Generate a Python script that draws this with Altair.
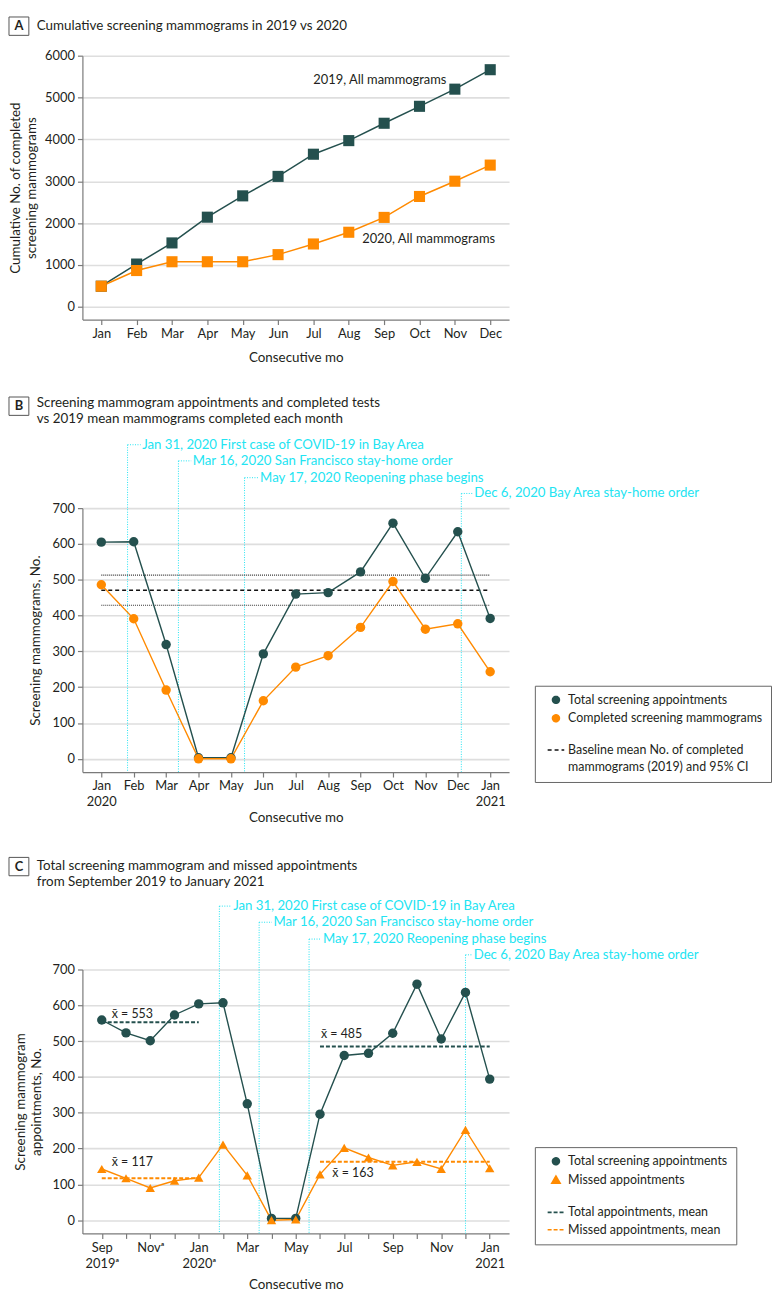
import json
import altair as alt
import pandas as pd

FONT = "Lato"
INK = "#231f20"
TEAL = "#24504e"
ORANGE = "#ff8a00"
CYAN = "#22e4f2"
GRID = "#dedede"
AXIS = "#7a7a7a"

# ------------------------------------------------------------------ data
# Panel A: cumulative screening mammograms
months_a = ["Jan", "Feb", "Mar", "Apr", "May", "Jun", "Jul", "Aug", "Sep", "Oct", "Nov", "Dec"]
cum_2019 = [490, 1020, 1525, 2140, 2650, 3115, 3645, 3970, 4385, 4790, 5200, 5665]
cum_2020 = [490, 865, 1075, 1075, 1075, 1245, 1500, 1780, 2135, 2635, 3000, 3385]
series_a = ["2019, All mammograms", "2020, All mammograms"]
series_a_label_x = [9.76, 11.14]
series_a_label_y = [5430, 1615]

# Panel B: Jan 2020 - Jan 2021
months_b = [["Jan", "2020"], "Feb", "Mar", "Apr", "May", "Jun", "Jul", "Aug", "Sep",
            "Oct", "Nov", "Dec", ["Jan", "2021"]]
total_b = [605, 606, 319, 3, 3, 293, 460, 464, 522, 658, 504, 634, 392]
completed_b = [486, 391, 192, 0, 0, 162, 256, 288, 367, 495, 362, 377, 243]
baseline_mean = 471
baseline_ci = [429, 513]
SPACER = "spacer"
series_b = ["Total screening appointments", "Completed screening mammograms", SPACER,
            "Baseline mean No. of completed", "mammograms (2019) and 95% CI"]

# Panel C: Sep 2019 - Jan 2021
months_c = [["Sep", "2019ᵃ"], "", "Novᵃ", "", ["Jan", "2020ᵃ"], "", "Mar", "", "May", "",
            "Jul", "", "Sep", "", "Nov", "", ["Jan", "2021"]]
total_c = [559, 523, 501, 573, 604, 607, 325, 5, 5, 296, 460, 466, 522, 659, 506, 636, 394]
missed_c = [143, 117, 90, 110, 119, 211, 125, 0, 2, 128, 202, 175, 153, 163, 143, 252, 145]
series_c = ["Total screening appointments", "Missed appointments", SPACER,
            "Total appointments, mean", "Missed appointments, mean"]
mean_series = ["Total appointments, mean", "Total appointments, mean",
               "Missed appointments, mean", "Missed appointments, mean"]
mean_values = [553, 485, 117, 163]
mean_from = [0, 9, 0, 9]
mean_to = [4, 16, 4, 16]
mean_label_x = [0.41, 9.04, 0.41, 9.51]
mean_label_y = [576, 520, 162, 132]

# COVID-19 events
events = ["Jan 31, 2020 First case of COVID-19 in Bay Area",
          "Mar 16, 2020 San Francisco stay-home order",
          "May 17, 2020 Reopening phase begins",
          "Dec 6, 2020 Bay Area stay-home order"]
events_b_x = [0.81, 2.38, 4.42, 11.11]
events_b_text_x = [1.26, 2.82, 4.90, 11.51]
events_c_x = [4.85, 6.49, 8.55, 15.0]
events_c_text_x = [5.42, 7.08, 9.12, 15.34]
events_label_y = [877, 832, 785, 741]

titles = {
    "A": ["Cumulative screening mammograms in 2019 vs 2020"],
    "B": ["Screening mammogram appointments and completed tests",
          "vs 2019 mean mammograms completed each month"],
    "C": ["Total screening mammogram and missed appointments",
          "from September 2019 to January 2021"],
}

W, H = 430, 266
Y_DOM = [-37, 700]


def label_expr(labels):
    return json.dumps(labels, ensure_ascii=False) + "[datum.value]"


def x_axis(n, labels, title_pad):
    return alt.Axis(values=list(range(n)), labelExpr=label_expr(labels),
                    title="Consecutive mo", titlePadding=title_pad,
                    labelOverlap=False, labelFlush=False, grid=False, labelLineHeight=16)


def y_axis(values, title, title_pad):
    return alt.Axis(values=values, title=title, titlePadding=title_pad, format="d",
                    grid=True, gridColor=GRID, gridWidth=1.6, labelFlush=False,
                    labelOverlap=False, titleLineHeight=16)


def X(field, dom, axis):
    return alt.X(field, type="quantitative",
                 scale=alt.Scale(domain=dom, nice=False, zero=False), axis=axis)


def Y(field, dom, axis):
    return alt.Y(field, type="quantitative",
                 scale=alt.Scale(domain=dom, nice=False, zero=False), axis=axis)


def header(letter, box_top, text_top):
    d = alt.Data(values=[{"t": letter, "h": "\n".join(titles[letter])}])
    box = alt.Chart(d).mark_rect(fill="white", stroke="#555555", strokeWidth=1).encode(
        x=alt.value(-74), x2=alt.value(-54), y=alt.value(box_top), y2=alt.value(box_top + 18.5))
    let = alt.Chart(d).mark_text(font=FONT, fontSize=13, fontWeight="bold", color=INK,
                                 align="center", baseline="middle").encode(
        x=alt.value(-64), y=alt.value(box_top + 9.5), text="t:N")
    ttl = alt.Chart(d).mark_text(font=FONT, fontSize=13.5, color=INK, align="left",
                                 baseline="top", lineBreak="\n", lineHeight=16).encode(
        x=alt.value(-46), y=alt.value(text_top), text="h:N")
    return [box, let, ttl]


def event_layers(xdom, xs, txs, step, xax, yax):
    df = pd.DataFrame({"e": events, "x": xs, "xt": txs, "xc": [t - 1.5 / step for t in txs],
                       "y": events_label_y})
    base = alt.Chart(df)
    vline = base.mark_rule(color=CYAN, strokeWidth=1, strokeDash=[1, 1.5]).encode(
        x=X("x", xdom, xax), y=Y("y", Y_DOM, yax), y2=alt.value(H))
    hline = base.mark_rule(color=CYAN, strokeWidth=1, strokeDash=[1, 1.5]).encode(
        x=X("x", xdom, xax), x2="xc:Q", y=Y("y", Y_DOM, yax))
    txt = base.mark_text(color=CYAN, font=FONT, fontSize=13.3, align="left",
                         baseline="middle").encode(
        x=X("xt", xdom, xax), y=Y("y", Y_DOM, yax), text="e:N")
    return vline, [hline, txt]


def legend(line_entries, hidden_entries):
    size_sig = (f"datum.value == '{SPACER}' ? 0 : "
                f"indexof({json.dumps(hidden_entries)}, datum.value) >= 0 ? 0 : "
                f"indexof({json.dumps(line_entries)}, datum.value) >= 0 ? 280 : "
                f"datum.value == 'Missed appointments' ? 70 : 48")
    font_sig = f"datum.value == '{SPACER}' ? 2 : 12.5"
    return alt.Legend(orient="none", legendX=456, legendY=179, title=None,
                      strokeColor="#666666", fillColor="white", padding=8,
                      labelFont=FONT, labelFontSize={"expr": font_sig}, labelColor=INK,
                      labelLimit=400, symbolSize={"expr": size_sig}, symbolOffset=7,
                      symbolStrokeWidth=1.6, rowPadding=4.5, labelOffset=6,
                      gridAlign="none",
                      labelExpr=f"datum.label == '{SPACER}' ? '' : datum.label")


# ------------------------------------------------------------------ panel A
xa_dom = [-0.533, 11.533]
ya_dom = [-308, 6000]
xa_ax = x_axis(12, months_a, 10)
ya_ax = y_axis(list(range(0, 6001, 1000)), ["Cumulative No. of completed", "screening mammograms"], 6)
df_a = pd.DataFrame({
    "i": list(range(12)) * 2,
    "v": cum_2019 + cum_2020,
    "s": [series_a[0]] * 12 + [series_a[1]] * 12,
})
col_a = alt.Color("s:N", scale=alt.Scale(domain=series_a, range=[TEAL, ORANGE]), legend=None)
lines_a = alt.Chart(df_a).mark_line(strokeWidth=1.5).encode(
    x=X("i", xa_dom, xa_ax), y=Y("v", ya_dom, ya_ax), color=col_a)
pts_a = alt.Chart(df_a).mark_point(shape="square", filled=True, size=125, opacity=1).encode(
    x=X("i", xa_dom, xa_ax), y=Y("v", ya_dom, ya_ax), color=col_a)
lab_a = alt.Chart(pd.DataFrame({"s": series_a, "x": series_a_label_x, "y": series_a_label_y})
                  ).mark_text(font=FONT, fontSize=13, color=INK, align="right",
                              baseline="middle").encode(
    x=X("x", xa_dom, xa_ax), y=Y("y", ya_dom, ya_ax), text="s:N")
panel_a = alt.layer(lines_a, pts_a, lab_a, *header("A", -39, -37)).properties(width=W, height=H)

# ------------------------------------------------------------------ panel B
xb_dom = [-0.583, 12.583]
step_b = W / (xb_dom[1] - xb_dom[0])
xb_ax = x_axis(13, months_b, 2)
yb_ax = y_axis(list(range(0, 701, 100)), "Screening mammograms, No.", 10)
df_b = pd.DataFrame({
    "i": list(range(13)) * 2,
    "v": total_b + completed_b,
    "s": [series_b[0]] * 13 + [series_b[1]] * 13,
})
leg_b = legend([series_b[3]], [series_b[4]])
col_b = alt.Scale(domain=series_b, range=[TEAL, ORANGE, "white", "#111111", "white"])
shp_b = alt.Scale(domain=series_b, range=["circle", "circle", "circle", "stroke", "circle"])
dsh_b = alt.Scale(domain=series_b, range=[[1, 0], [1, 0], [1, 0], [4, 3], [1, 0]])

vl_b, ev_b = event_layers(xb_dom, events_b_x, events_b_text_x, step_b, xb_ax, yb_ax)
df_ci = pd.DataFrame({"x": [0, 0], "x2": [12, 12], "v": baseline_ci})
ci_b = alt.Chart(df_ci).mark_rule(color="#333333", strokeWidth=1.1, strokeDash=[1, 1]).encode(
    x=X("x", xb_dom, xb_ax), x2="x2:Q", y=Y("v", Y_DOM, yb_ax))
df_base = pd.DataFrame({"x": [0], "x2": [12], "v": [baseline_mean], "s": [series_b[3]]})
base_b = alt.Chart(df_base).mark_rule(strokeWidth=1.5).encode(
    x=X("x", xb_dom, xb_ax), x2="x2:Q", y=Y("v", Y_DOM, yb_ax),
    color=alt.Color("s:N", scale=col_b, legend=leg_b),
    strokeDash=alt.StrokeDash("s:N", scale=dsh_b, legend=leg_b))
lines_b = alt.Chart(df_b).mark_line(strokeWidth=1.4).encode(
    x=X("i", xb_dom, xb_ax), y=Y("v", Y_DOM, yb_ax),
    color=alt.Color("s:N", scale=col_b, legend=leg_b))
pts_b = alt.Chart(df_b).mark_point(filled=True, size=90, opacity=1).encode(
    x=X("i", xb_dom, xb_ax), y=Y("v", Y_DOM, yb_ax),
    color=alt.Color("s:N", scale=col_b, legend=leg_b),
    shape=alt.Shape("s:N", scale=shp_b, legend=leg_b))
panel_b = alt.layer(vl_b, ci_b, base_b, lines_b, pts_b, *ev_b,
                    *header("B", -112, -113)).properties(width=W, height=H)

# ------------------------------------------------------------------ panel C
xc_dom = [-0.798, 16.798]
step_c = W / (xc_dom[1] - xc_dom[0])
xc_ax = x_axis(17, months_c, 8)
yc_ax = y_axis(list(range(0, 701, 100)), ["Screening mammogram", "appointments, No."], 9)
df_c = pd.DataFrame({
    "i": list(range(17)) * 2,
    "v": total_c + missed_c,
    "s": [series_c[0]] * 17 + [series_c[1]] * 17,
})
leg_c = legend([series_c[3], series_c[4]], [])
col_c = alt.Scale(domain=series_c, range=[TEAL, ORANGE, "white", TEAL, ORANGE])
shp_c = alt.Scale(domain=series_c, range=["circle", "triangle-up", "circle", "stroke", "stroke"])
dsh_c = alt.Scale(domain=series_c, range=[[1, 0], [1, 0], [1, 0], [4, 2], [4, 2]])

vl_c, ev_c = event_layers(xc_dom, events_c_x, events_c_text_x, step_c, xc_ax, yc_ax)
df_mean = pd.DataFrame({"s": mean_series, "v": mean_values, "x": mean_from, "x2": mean_to})
mean_c = alt.Chart(df_mean).mark_rule(strokeWidth=2).encode(
    x=X("x", xc_dom, xc_ax), x2="x2:Q", y=Y("v", Y_DOM, yc_ax),
    color=alt.Color("s:N", scale=col_c, legend=leg_c),
    strokeDash=alt.StrokeDash("s:N", scale=dsh_c, legend=leg_c))
lines_c = alt.Chart(df_c).mark_line(strokeWidth=1.4).encode(
    x=X("i", xc_dom, xc_ax), y=Y("v", Y_DOM, yc_ax),
    color=alt.Color("s:N", scale=col_c, legend=leg_c))
pts_c = alt.Chart(df_c).mark_point(filled=True, size=90, opacity=1).encode(
    x=X("i", xc_dom, xc_ax), y=Y("v", Y_DOM, yc_ax),
    color=alt.Color("s:N", scale=col_c, legend=leg_c),
    shape=alt.Shape("s:N", scale=shp_c, legend=leg_c))
df_ml = pd.DataFrame({"t": ["x\u0304 = " + str(m) for m in mean_values],
                      "x": mean_label_x, "y": mean_label_y})
ml_c = alt.Chart(df_ml).mark_text(font=FONT, fontSize=12.5, color=INK, align="left",
                                  baseline="middle").encode(
    x=X("x", xc_dom, xc_ax), y=Y("y", Y_DOM, yc_ax), text="t:N")
panel_c = alt.layer(vl_c, mean_c, lines_c, pts_c, ml_c, *ev_c,
                    *header("C", -113, -111)).properties(width=W, height=H)

res = dict(color="independent", shape="independent", strokeDash="independent")
chart = alt.vconcat(panel_a, panel_b, panel_c, spacing=32).resolve_scale(**res).properties(
    padding={"left": 0, "top": 3, "right": 0, "bottom": 0}
).configure_view(stroke=None).configure_axis(
    labelFont=FONT, titleFont=FONT, labelFontSize=13, titleFontSize=13.5,
    titleFontWeight="normal", labelColor=INK, titleColor=INK, domainColor=AXIS,
    tickColor=AXIS, tickSize=5, labelPadding=3, domainWidth=1.2, tickWidth=1.2
)

chart.save("out.html", embed_options={"renderer": "svg", "actions": False})
